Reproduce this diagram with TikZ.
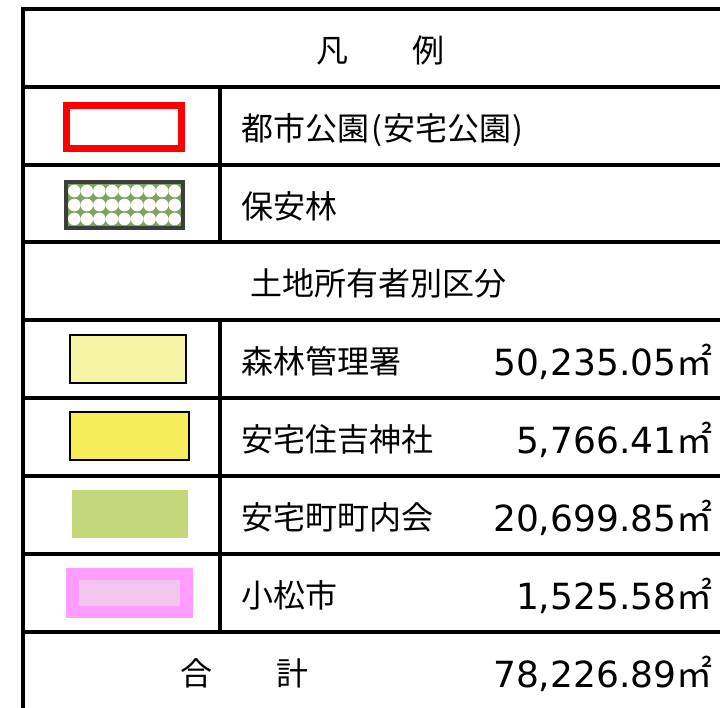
\documentclass[tikz,border=0pt]{standalone}
\usepackage{fontspec}
\setmainfont{Noto Sans CJK JP}
\newfontfamily\numfont{DejaVu Sans}
\usepackage{tikz}
\definecolor{Park}{RGB}{255, 0, 0}
\definecolor{Forest}{RGB}{125, 165, 95}
\definecolor{ForestEdge}{RGB}{60, 62, 58}
\definecolor{Office}{RGB}{246, 245, 165}
\definecolor{Shrine}{RGB}{245, 238, 90}
\definecolor{Town}{RGB}{196, 215, 122}
\definecolor{City}{RGB}{255, 156, 255}
\definecolor{CityIn}{RGB}{243, 196, 236}
\newcommand{\sqm}{{\fontsize{36}{40}\selectfont\rmfamily ㎡}}

\begin{document}
\begin{tikzpicture}[x=1pt, y=-1pt, line width=3.3pt,
    jp/.style={font=\fontsize{32}{38}\selectfont, anchor=base west, inner sep=0pt},
    num/.style={font=\fontsize{36}{42}\selectfont\numfont, anchor=base east, inner sep=0pt}]
    %% Background
    \useasboundingbox (0,0) rectangle (720,707);
    \clip (0,0) rectangle (720,707);

    %% Table
    \draw (23,760) -- (23,9) -- (760,9);
    \foreach \y in {87,165,242,320,398,476,554,632}
        \draw (23,\y) -- (760,\y);
    \draw
    (220,87) -- (220,242)
    (220,320) -- (220,632)
    ;

    %% Headings
    \node[jp, anchor=base] (legend) at (380,62) {凡　　例};
    \node[jp, anchor=base] (owners) at (378,295) {土地所有者別区分};
    \node[jp, anchor=base] (total) at (244,685) {合　　計};
    \node[num] (totalarea) at (714,687) {78,226.89\sqm};

    %% Park and forest
    \draw[Park, line width=7pt, fill=white] (66.5,105.5) rectangle (181.5,148.5);
    \node[jp] (park) at (240,140) {都市公園\kern2pt(\kern1pt安宅公園\kern1pt)};

    \fill[Forest] (66,182) rectangle (183,228);
    \foreach \i in {0,...,8}
        \foreach \j in {0,...,2}
            \fill[white] ({74.3+12.55*\i},{191+14*\j}) circle (6.3);
    \draw[ForestEdge, line width=4pt] (66,182) rectangle (183,228);
    \node[jp] (forest) at (240,218) {保安林};

    %% Owners
    \draw[line width=1.2pt, fill=Office] (70,335) rectangle (186,383);
    \node[jp] (office) at (240,373) {森林管理署};
    \node[num] (officearea) at (714,375) {50,235.05\sqm};

    \draw[line width=1.4pt, fill=Shrine] (70,412) rectangle (189,460);
    \node[jp] (shrine) at (240,451) {安宅住吉神社};
    \node[num] (shrinearea) at (714,453) {5,766.41\sqm};

    \fill[Town] (72,490) rectangle (188,538);
    \node[jp] (town) at (240,529) {安宅町町内会};
    \node[num] (townarea) at (714,531) {20,699.85\sqm};

    \fill[City] (66,568) rectangle (193,618);
    \fill[CityIn] (79,580) rectangle (180,606);
    \node[jp] (city) at (240,607) {小松市};
    \node[num] (cityarea) at (714,609) {1,525.58\sqm};
\end{tikzpicture}
\end{document}
